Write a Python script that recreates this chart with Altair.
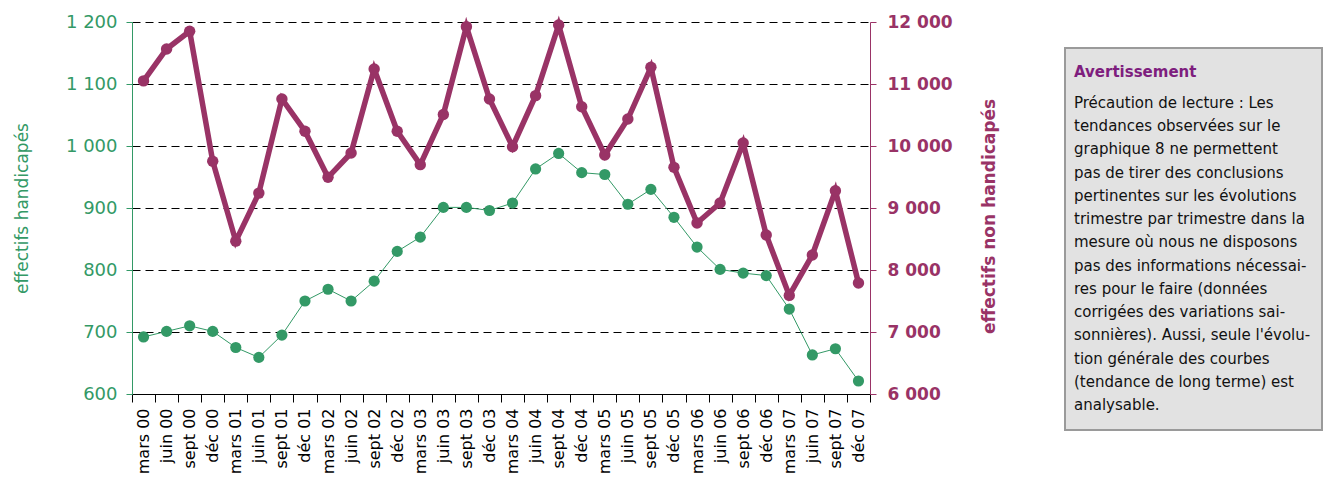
import altair as alt
import pandas as pd

periods = [
    "mars 00", "juin 00", "sept 00", "déc 00",
    "mars 01", "juin 01", "sept 01", "déc 01",
    "mars 02", "juin 02", "sept 02", "déc 02",
    "mars 03", "juin 03", "sept 03", "déc 03",
    "mars 04", "juin 04", "sept 04", "déc 04",
    "mars 05", "juin 05", "sept 05", "déc 05",
    "mars 06", "juin 06", "sept 06", "déc 06",
    "mars 07", "juin 07", "sept 07", "déc 07",
]
handicapes = [692, 701, 710, 701, 675, 659, 695, 750,
              769, 750, 782, 830, 853, 901, 901, 896,
              908, 963, 988, 957, 954, 906, 930, 885,
              837, 801, 795, 791, 737, 663, 673, 621]
non_handicapes = [11050, 11565, 11850, 9755, 8465, 9240, 10758, 10238,
                  9495, 9887, 11242, 10238, 9699, 10508, 11925, 10758,
                  9989, 10812, 11952, 10634, 9855, 10435, 11269, 9656,
                  8758, 9081, 10048, 8565, 7590, 8242, 9279, 7790]
left_ticks = [600, 700, 800, 900, 1000, 1100, 1200]
right_ticks = [6000, 7000, 8000, 9000, 10000, 11000, 12000]

note_title = "Avertissement"
note_lines = [
    "Précaution de lecture : Les",
    "tendances observées sur le",
    "graphique 8 ne permettent",
    "pas de tirer des conclusions",
    "pertinentes sur les évolutions",
    "trimestre par trimestre dans la",
    "mesure où nous ne disposons",
    "pas des informations nécessai-",
    "res pour le faire (données",
    "corrigées des variations sai-",
    "sonnières). Aussi, seule l'évolu-",
    "tion générale des courbes",
    "(tendance de long terme) est",
    "analysable.",
]

GREEN = "#339966"
PURPLE = "#993366"
VIOLET = "#7E1E7E"
FONT = "DejaVu Sans"
LABEL_EXPR = "replace(format(datum.value, ','), ',', ' ')"

df = pd.DataFrame({"periode": periods, "h": handicapes, "nh": non_handicapes})

x_enc = alt.X(
    "periode:N", sort=periods,
    scale=alt.Scale(type="band", paddingInner=0, paddingOuter=0),
    axis=alt.Axis(title=None, labelAngle=-90, labelAlign="right", labelBaseline="middle",
                  labelFontSize=16, labelColor="black", labelFont=FONT, labelPadding=6,
                  tickBand="extent", tickColor="black", tickSize=8, domainColor="black",
                  grid=False),
)

green = alt.Chart(df).mark_line(
    color=GREEN, strokeWidth=1,
    point=alt.OverlayMarkDef(color=GREEN, size=125, filled=True, opacity=1),
).encode(
    x=x_enc,
    y=alt.Y("h:Q", scale=alt.Scale(domain=[600, 1200], nice=False, zero=False),
            axis=alt.Axis(values=left_ticks, labelExpr=LABEL_EXPR, labelColor=GREEN,
                          labelFontSize=18, labelFont=FONT, labelPadding=9,
                          tickColor=GREEN, tickSize=6, domainColor=GREEN,
                          grid=True, gridColor="black", gridDash=[8, 5], gridWidth=1,
                          title="effectifs handicapés", titleColor=GREEN,
                          titleFontSize=17, titleFontWeight="normal", titleFont=FONT,
                          titlePadding=34)),
)

purple = alt.Chart(df).mark_line(
    color=PURPLE, strokeWidth=5.5,
    point=alt.OverlayMarkDef(color=PURPLE, size=130, filled=True, opacity=1),
).encode(
    x=x_enc,
    y=alt.Y("nh:Q", scale=alt.Scale(domain=[6000, 12000], nice=False, zero=False),
            axis=alt.Axis(orient="right", values=right_ticks, labelExpr=LABEL_EXPR,
                          labelColor=PURPLE, labelFontSize=17, labelFontWeight="bold",
                          labelFont=FONT, labelPadding=11,
                          tickColor=PURPLE, tickSize=6, domainColor=PURPLE, grid=False,
                          title="effectifs non handicapés", titleColor=PURPLE,
                          titleFontSize=17, titleFontWeight="bold", titleFont=FONT,
                          titleAngle=270, titlePadding=46, titleY=194)),
)

main = alt.layer(green, purple).resolve_scale(y="independent").properties(width=738, height=372)

# warning box panel (row units mapped through a linear scale)
H2 = 408
W2 = 257
d0 = -2.487
d1 = 15.076
note_df = pd.DataFrame({"row": list(range(1, len(note_lines) + 1)), "line": note_lines})
title_df = pd.DataFrame({"row": [-0.334], "line": [note_title]})
box_df = pd.DataFrame({"top": [-1.368], "bottom": [d1]})
yscale = alt.Scale(domain=[d0, d1], reverse=True, nice=False, zero=False)

box = alt.Chart(box_df).mark_rect(fill="#E2E2E2", stroke="#9A9A9A", strokeWidth=2).encode(
    x=alt.value(0), x2=alt.value(W2),
    y=alt.Y("top:Q", scale=yscale, axis=None), y2="bottom:Q",
)
body = alt.Chart(note_df).mark_text(align="left", baseline="middle", font=FONT,
                                    fontSize=15, color="#111111").encode(
    x=alt.value(9), y=alt.Y("row:Q", scale=yscale, axis=None), text="line:N",
)
head = alt.Chart(title_df).mark_text(align="left", baseline="middle", font=FONT,
                                     fontSize=15, fontWeight="bold", color=VIOLET).encode(
    x=alt.value(9), y=alt.Y("row:Q", scale=yscale, axis=None), text="line:N",
)
note = alt.layer(box, body, head).properties(width=W2, height=H2)

chart = alt.hconcat(main, note, spacing=66).configure_view(strokeWidth=0)

chart.save("out.html", embed_options={"renderer": "svg", "actions": False})
